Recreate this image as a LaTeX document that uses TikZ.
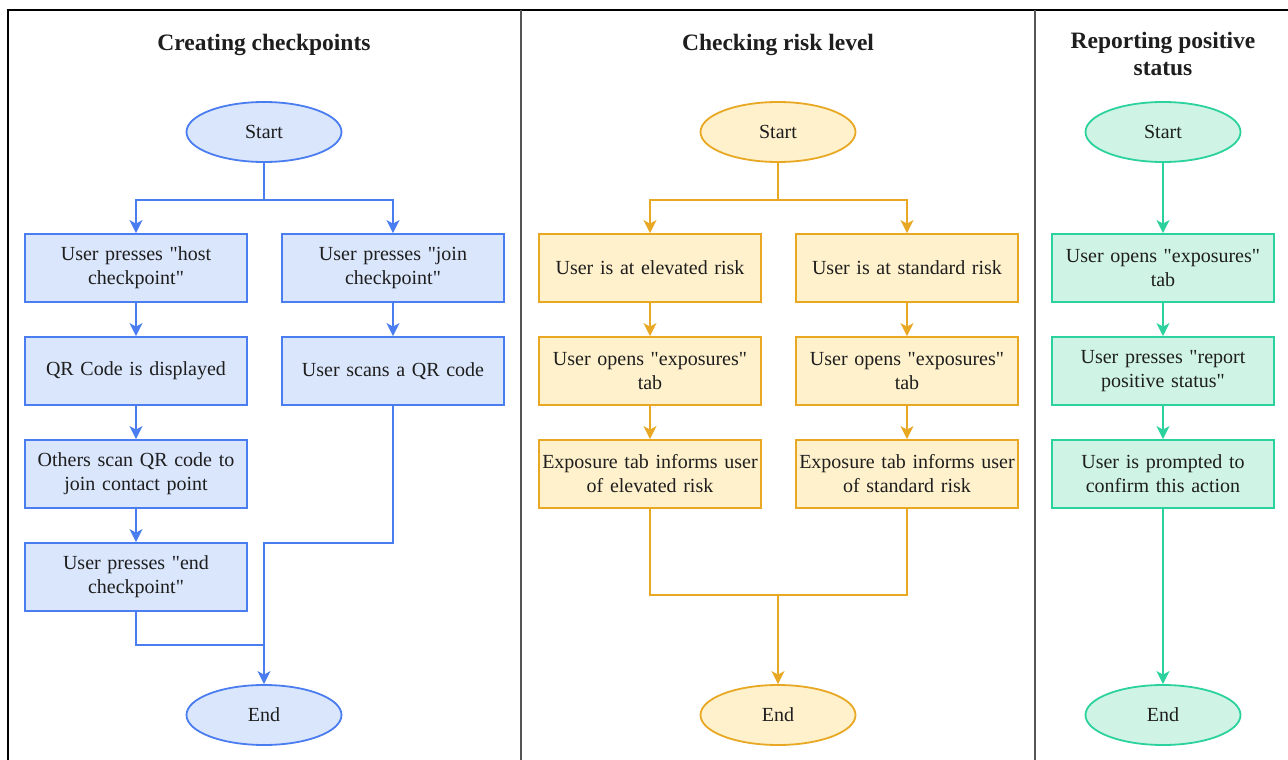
\documentclass[tikz,border=0pt]{standalone}
\usepackage{fontspec}
\setmainfont{Liberation Serif}
\usetikzlibrary{shapes.geometric,arrows.meta}

\definecolor{bluefill}{HTML}{DAE6FC}
\definecolor{bluedraw}{HTML}{4A7DF0}
\definecolor{orangefill}{HTML}{FFF1CC}
\definecolor{orangedraw}{HTML}{E8A823}
\definecolor{greenfill}{HTML}{CFF4E6}
\definecolor{greendraw}{HTML}{2CD29E}
\definecolor{divider}{HTML}{555555}
\definecolor{ink}{HTML}{1E1E1E}

% straight double quote
\newcommand{\dq}{\textquotedbl}

\tikzset{
  base/.style={line width=1.8pt, font=\fontsize{20}{24}\selectfont, text=ink, align=center, inner sep=2pt},
  terminal/.style={base, ellipse, minimum width=155pt, minimum height=60pt},
  stepbox/.style={base, rectangle, minimum width=222pt, minimum height=68pt, text width=218pt},
  blueshape/.style={fill=bluefill, draw=bluedraw},
  orangeshape/.style={fill=orangefill, draw=orangedraw},
  greenshape/.style={fill=greenfill, draw=greendraw},
  flow/.style={line width=1.8pt, -{Stealth[length=13pt,width=13pt,inset=3.5pt]}},
  plain/.style={line width=1.8pt},
  heading/.style={font=\bfseries\fontsize{23.5}{27}\selectfont, text=ink, align=center}
}

\begin{document}
\begin{tikzpicture}[x=1pt,y=-1pt]
\useasboundingbox (0,0) rectangle (1288,760);
\fill[white] (0,0) rectangle (1288,760);

% outer frame and panel dividers
\draw[line width=2pt, black] (8,770) -- (8,10) -- (1300,10);
\draw[line width=1.6pt, divider] (521,10) -- (521,770);
\draw[line width=1.6pt, divider] (1035,10) -- (1035,770);

% ---------------- Creating checkpoints ----------------
\node[heading] (h1) at (264,45) {Creating checkpoints};
\node[terminal, blueshape] (s1) at (264,132) {Start};
\node[stepbox, blueshape] (a1) at (136,268) {User presses \dq host\\checkpoint\dq};
\node[stepbox, blueshape] (a2) at (136,371) {QR Code is displayed};
\node[stepbox, blueshape] (a3) at (136,474) {Others scan QR code to\\join contact point};
\node[stepbox, blueshape] (a4) at (136,577) {User presses \dq end\\checkpoint\dq};
\node[stepbox, blueshape] (b1) at (393,268) {User presses \dq join\\checkpoint\dq};
\node[stepbox, blueshape] (b2) at (393,371) {User scans a QR code};
\node[terminal, blueshape] (e1) at (264,715) {End};

\coordinate (j1) at (264,200);
\coordinate (m1) at (264,645);
\begin{scope}[bluedraw]
\draw[plain] (s1.south) -- (j1);
\draw[flow] (j1) -| (a1.north);
\draw[flow] (j1) -| (b1.north);
\draw[flow] (a1) -- (a2);
\draw[flow] (a2) -- (a3);
\draw[flow] (a3) -- (a4);
\draw[flow] (b1) -- (b2);
\draw[flow] (b2.south) |- (264,543) -- (e1.north);
\draw[plain] (a4.south) |- (m1);
\end{scope}

% ---------------- Checking risk level ----------------
\node[heading] (h2) at (778,45) {Checking risk level};
\node[terminal, orangeshape] (s2) at (778,132) {Start};
\node[stepbox, orangeshape] (c1) at (650,268) {User is at elevated risk};
\node[stepbox, orangeshape] (c2) at (650,371) {User opens \dq exposures\dq\\tab};
\node[stepbox, orangeshape] (c3) at (650,474) {Exposure tab informs user\\of elevated risk};
\node[stepbox, orangeshape] (d1) at (907,268) {User is at standard risk};
\node[stepbox, orangeshape] (d2) at (907,371) {User opens \dq exposures\dq\\tab};
\node[stepbox, orangeshape] (d3) at (907,474) {Exposure tab informs user\\of standard risk};
\node[terminal, orangeshape] (e2) at (778,715) {End};

\coordinate (j2) at (778,200);
\coordinate (m2) at (778,595);
\begin{scope}[orangedraw]
\draw[plain] (s2.south) -- (j2);
\draw[flow] (j2) -| (c1.north);
\draw[flow] (j2) -| (d1.north);
\draw[flow] (c1) -- (c2);
\draw[flow] (c2) -- (c3);
\draw[flow] (d1) -- (d2);
\draw[flow] (d2) -- (d3);
\draw[plain] (c3.south) |- (m2);
\draw[plain] (d3.south) |- (m2);
\draw[flow] (m2) -- (e2.north);
\end{scope}

% ---------------- Reporting positive status ----------------
\node[heading] (h3) at (1163,54) {Reporting positive\\status};
\node[terminal, greenshape] (s3) at (1163,132) {Start};
\node[stepbox, greenshape] (g1) at (1163,268) {User opens \dq exposures\dq\\tab};
\node[stepbox, greenshape] (g2) at (1163,371) {User presses \dq report\\positive status\dq};
\node[stepbox, greenshape] (g3) at (1163,474) {User is prompted to\\confirm this action};
\node[terminal, greenshape] (e3) at (1163,715) {End};

\begin{scope}[greendraw]
\draw[flow] (s3) -- (g1);
\draw[flow] (g1) -- (g2);
\draw[flow] (g2) -- (g3);
\draw[flow] (g3) -- (e3);
\end{scope}
\end{tikzpicture}
\end{document}
